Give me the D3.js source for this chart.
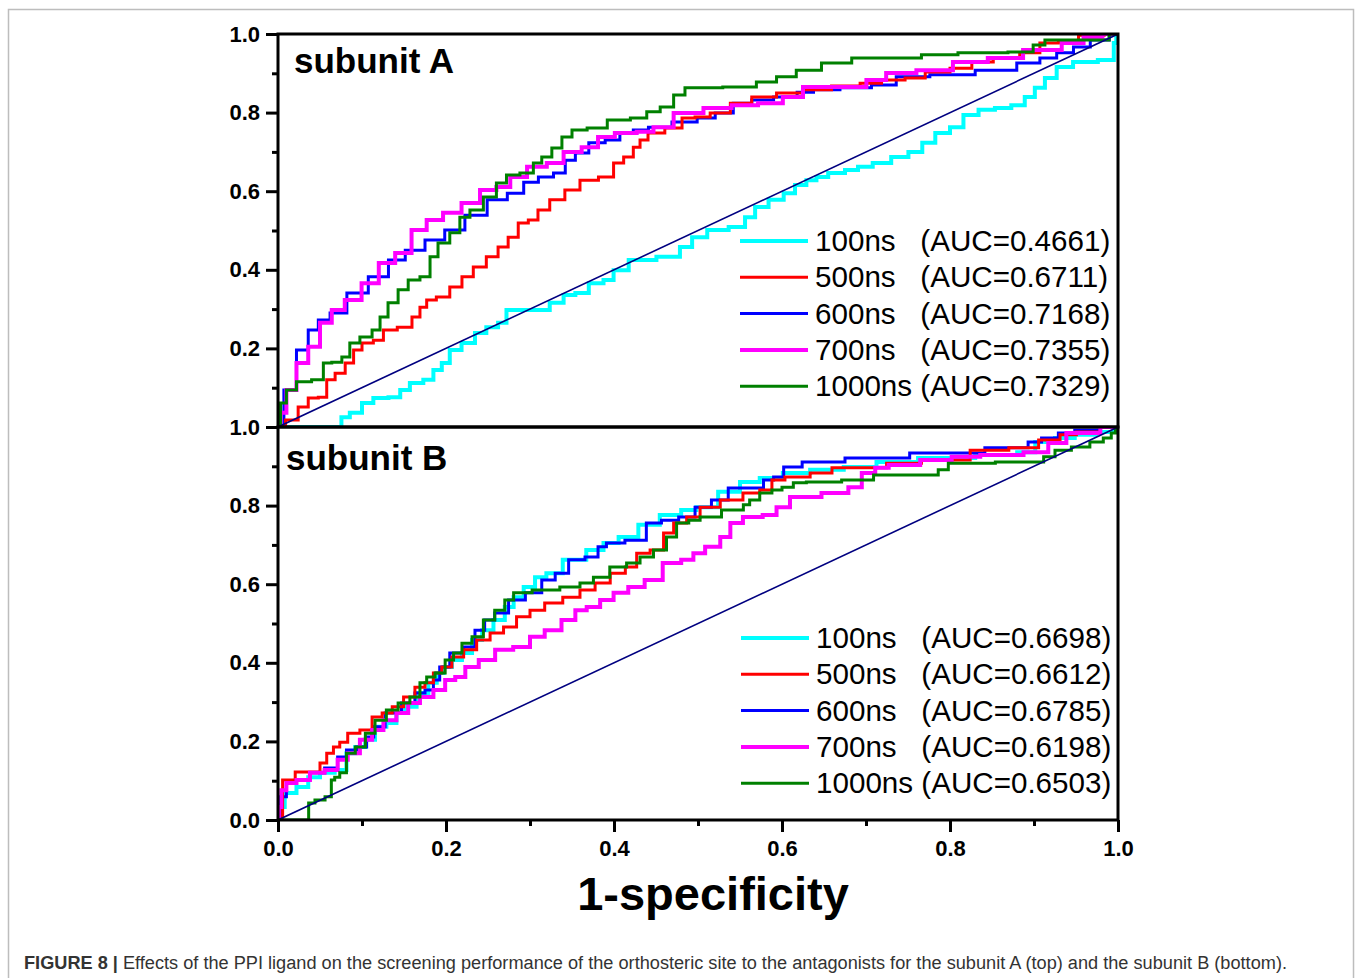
<!DOCTYPE html>
<html>
<head>
<meta charset="utf-8">
<script src="https://cdn.jsdelivr.net/npm/d3@7"></script>
<style>
  body { margin: 0; background: #fff; }
  text { font-family: "Liberation Sans", Arial, sans-serif; }
</style>
</head>
<body>
<div id="chart"></div>
<script>
const width = 1355
const height = 978

// runs, colours and AUC values from the legends
const runs = ["100ns", "500ns", "600ns", "700ns", "1000ns"]
const colors = ["#00ffff", "#ff0000", "#0000ff", "#ff00ff", "#008000"]
const widths = [4, 3, 3, 4, 3]
const aucA = ["0.4661", "0.6711", "0.7168", "0.7355", "0.7329"]
const aucB = ["0.6698", "0.6612", "0.6785", "0.6198", "0.6503"]
const majorTicks = [0, 0.2, 0.4, 0.6, 0.8, 1.0]
const minorTicks = [0.1, 0.3, 0.5, 0.7, 0.9]

// subunit A, [1-specificity, sensitivity]
const a100 = [[0,0],[0.074,0],[0.077,0.025],[0.094,0.036],[0.106,0.061],[0.121,0.074],[0.142,0.076],[0.149,0.094],[0.165,0.112],[0.181,0.120],[0.189,0.145],[0.201,0.163],[0.208,0.196],[0.229,0.214],[0.240,0.239],[0.256,0.254],[0.268,0.265],[0.276,0.298],[0.315,0.298],[0.332,0.316],[0.348,0.336],[0.360,0.341],[0.380,0.366],[0.395,0.374],[0.404,0.399],[0.431,0.425],[0.470,0.433],[0.487,0.458],[0.499,0.483],[0.523,0.501],[0.550,0.509],[0.562,0.534],[0.574,0.560],[0.594,0.578],[0.610,0.595],[0.621,0.616],[0.637,0.628],[0.645,0.636],[0.665,0.646],[0.685,0.654],[0.696,0.662],[0.720,0.672],[0.740,0.687],[0.761,0.700],[0.773,0.723],[0.792,0.748],[0.808,0.763],[0.824,0.794],[0.844,0.807],[0.863,0.812],[0.883,0.819],[0.895,0.840],[0.907,0.863],[0.919,0.888],[0.935,0.916],[0.958,0.929],[0.994,0.934],[0.996,0.977],[1,1]]
const a500 = [[0,0],[0.018,0.018],[0.030,0.051],[0.042,0.074],[0.054,0.076],[0.062,0.120],[0.074,0.137],[0.086,0.163],[0.094,0.196],[0.106,0.214],[0.121,0.221],[0.130,0.247],[0.154,0.254],[0.165,0.280],[0.173,0.305],[0.181,0.323],[0.196,0.331],[0.213,0.356],[0.225,0.382],[0.240,0.407],[0.256,0.433],[0.268,0.458],[0.280,0.483],[0.292,0.519],[0.304,0.527],[0.315,0.552],[0.332,0.578],[0.351,0.603],[0.368,0.628],[0.395,0.636],[0.404,0.672],[0.419,0.687],[0.427,0.712],[0.435,0.730],[0.446,0.748],[0.475,0.761],[0.487,0.786],[0.506,0.789],[0.523,0.799],[0.554,0.824],[0.574,0.840],[0.613,0.850],[0.637,0.858],[0.681,0.868],[0.705,0.875],[0.732,0.883],[0.761,0.888],[0.780,0.903],[0.820,0.913],[0.832,0.929],[0.871,0.939],[0.895,0.952],[0.919,0.977],[0.939,0.980],[0.967,0.997],[1,1]]
const a600 = [[0,0],[0.014,0.094],[0.030,0.196],[0.042,0.247],[0.054,0.272],[0.070,0.290],[0.094,0.341],[0.121,0.382],[0.142,0.425],[0.161,0.450],[0.189,0.476],[0.208,0.501],[0.237,0.539],[0.261,0.578],[0.285,0.595],[0.300,0.623],[0.320,0.636],[0.336,0.646],[0.348,0.679],[0.360,0.697],[0.380,0.723],[0.399,0.730],[0.415,0.748],[0.431,0.756],[0.451,0.763],[0.487,0.776],[0.511,0.786],[0.530,0.799],[0.554,0.824],[0.574,0.832],[0.606,0.840],[0.630,0.852],[0.645,0.858],[0.693,0.863],[0.720,0.870],[0.752,0.891],[0.800,0.896],[0.860,0.908],[0.899,0.926],[0.915,0.939],[0.939,0.952],[0.955,0.967],[0.979,0.985],[1,1]]
const a700 = [[0,0],[0.006,0.036],[0.014,0.094],[0.030,0.163],[0.042,0.204],[0.058,0.265],[0.070,0.298],[0.089,0.323],[0.110,0.366],[0.130,0.417],[0.149,0.443],[0.169,0.501],[0.185,0.527],[0.208,0.545],[0.229,0.570],[0.252,0.603],[0.268,0.611],[0.285,0.636],[0.308,0.662],[0.332,0.672],[0.348,0.700],[0.375,0.712],[0.387,0.738],[0.415,0.748],[0.439,0.751],[0.455,0.763],[0.487,0.799],[0.526,0.812],[0.554,0.819],[0.589,0.824],[0.613,0.840],[0.637,0.865],[0.693,0.865],[0.708,0.883],[0.740,0.901],[0.780,0.908],[0.827,0.929],[0.863,0.939],[0.911,0.959],[0.955,0.977],[0.963,0.992],[1,1]]
const a1000 = [[0,0],[0.006,0.061],[0.014,0.094],[0.030,0.115],[0.050,0.120],[0.058,0.163],[0.070,0.165],[0.082,0.178],[0.089,0.214],[0.106,0.229],[0.118,0.247],[0.125,0.280],[0.137,0.316],[0.149,0.349],[0.161,0.374],[0.177,0.382],[0.185,0.433],[0.196,0.468],[0.213,0.494],[0.220,0.534],[0.237,0.552],[0.252,0.585],[0.268,0.621],[0.276,0.641],[0.300,0.646],[0.308,0.672],[0.320,0.687],[0.332,0.710],[0.344,0.738],[0.356,0.756],[0.380,0.761],[0.404,0.781],[0.435,0.786],[0.443,0.802],[0.467,0.814],[0.475,0.845],[0.494,0.863],[0.565,0.865],[0.574,0.878],[0.613,0.891],[0.621,0.908],[0.673,0.926],[0.693,0.939],[0.764,0.939],[0.768,0.947],[0.851,0.952],[0.887,0.954],[0.911,0.972],[0.915,0.985],[0.979,0.985],[1,1]]

// subunit B
const b100 = [[0,0],[0.002,0.033],[0.014,0.069],[0.030,0.084],[0.042,0.109],[0.058,0.120],[0.077,0.127],[0.086,0.170],[0.098,0.186],[0.110,0.204],[0.121,0.237],[0.137,0.247],[0.145,0.272],[0.157,0.288],[0.173,0.323],[0.185,0.349],[0.193,0.374],[0.201,0.389],[0.213,0.407],[0.225,0.425],[0.237,0.458],[0.249,0.483],[0.264,0.509],[0.276,0.542],[0.285,0.567],[0.300,0.593],[0.312,0.618],[0.327,0.628],[0.351,0.662],[0.383,0.687],[0.392,0.705],[0.419,0.720],[0.439,0.751],[0.470,0.776],[0.490,0.789],[0.506,0.796],[0.542,0.835],[0.558,0.860],[0.589,0.870],[0.613,0.883],[0.654,0.891],[0.693,0.898],[0.732,0.911],[0.792,0.921],[0.868,0.929],[0.892,0.936],[0.911,0.962],[0.939,0.972],[0.958,0.980],[0.990,0.987],[1,1]]
const b500 = [[0,0],[0.011,0.102],[0.030,0.122],[0.046,0.122],[0.054,0.145],[0.062,0.170],[0.070,0.186],[0.077,0.198],[0.089,0.221],[0.106,0.229],[0.118,0.262],[0.130,0.272],[0.142,0.288],[0.157,0.313],[0.169,0.338],[0.181,0.349],[0.189,0.374],[0.201,0.389],[0.213,0.415],[0.229,0.433],[0.244,0.458],[0.261,0.476],[0.276,0.491],[0.292,0.517],[0.308,0.534],[0.327,0.552],[0.351,0.567],[0.368,0.585],[0.387,0.603],[0.404,0.628],[0.423,0.644],[0.431,0.679],[0.455,0.687],[0.463,0.730],[0.479,0.756],[0.494,0.771],[0.511,0.796],[0.542,0.814],[0.565,0.832],[0.582,0.840],[0.594,0.865],[0.613,0.873],[0.654,0.883],[0.665,0.896],[0.717,0.896],[0.732,0.908],[0.800,0.916],[0.848,0.941],[0.892,0.947],[0.919,0.967],[0.943,0.980],[0.958,0.987],[1,1]]
const b600 = [[0,0],[0.006,0.059],[0.014,0.094],[0.030,0.102],[0.046,0.120],[0.065,0.132],[0.077,0.160],[0.086,0.178],[0.101,0.186],[0.110,0.211],[0.118,0.237],[0.137,0.272],[0.157,0.298],[0.169,0.323],[0.181,0.331],[0.189,0.356],[0.196,0.389],[0.213,0.425],[0.229,0.440],[0.240,0.483],[0.252,0.509],[0.264,0.527],[0.285,0.560],[0.304,0.578],[0.324,0.611],[0.336,0.628],[0.356,0.662],[0.375,0.669],[0.387,0.695],[0.395,0.705],[0.431,0.712],[0.446,0.756],[0.467,0.763],[0.487,0.771],[0.506,0.796],[0.526,0.814],[0.546,0.845],[0.574,0.845],[0.582,0.865],[0.598,0.873],[0.606,0.898],[0.642,0.911],[0.708,0.921],[0.796,0.934],[0.887,0.947],[0.899,0.962],[0.919,0.972],[0.939,0.985],[0.958,0.992],[1,1]]
const b700 = [[0,0],[0.002,0.033],[0.006,0.076],[0.014,0.094],[0.030,0.102],[0.046,0.120],[0.065,0.127],[0.077,0.153],[0.089,0.170],[0.106,0.204],[0.118,0.229],[0.133,0.254],[0.149,0.272],[0.161,0.298],[0.177,0.313],[0.193,0.331],[0.205,0.356],[0.217,0.364],[0.229,0.389],[0.249,0.407],[0.268,0.433],[0.292,0.440],[0.308,0.466],[0.327,0.483],[0.348,0.509],[0.360,0.534],[0.375,0.542],[0.392,0.560],[0.407,0.578],[0.427,0.593],[0.446,0.611],[0.470,0.654],[0.490,0.662],[0.499,0.679],[0.518,0.695],[0.535,0.720],[0.542,0.756],[0.565,0.771],[0.589,0.776],[0.598,0.796],[0.621,0.822],[0.673,0.832],[0.685,0.847],[0.705,0.883],[0.717,0.896],[0.737,0.903],[0.792,0.916],[0.812,0.924],[0.860,0.929],[0.915,0.936],[0.919,0.959],[0.958,0.985],[1,1]]
const b1000 = [[0,0],[0.035,0],[0.038,0.043],[0.050,0.051],[0.062,0.059],[0.065,0.102],[0.070,0.109],[0.077,0.120],[0.086,0.170],[0.098,0.186],[0.110,0.221],[0.121,0.254],[0.137,0.280],[0.149,0.298],[0.165,0.313],[0.173,0.349],[0.181,0.364],[0.193,0.374],[0.205,0.407],[0.213,0.425],[0.225,0.450],[0.237,0.466],[0.252,0.509],[0.264,0.534],[0.276,0.560],[0.285,0.578],[0.320,0.585],[0.351,0.593],[0.368,0.603],[0.383,0.618],[0.407,0.644],[0.423,0.654],[0.439,0.669],[0.455,0.687],[0.470,0.720],[0.479,0.756],[0.499,0.763],[0.506,0.771],[0.550,0.789],[0.558,0.802],[0.565,0.814],[0.582,0.832],[0.594,0.840],[0.606,0.847],[0.621,0.858],[0.637,0.860],[0.705,0.865],[0.713,0.878],[0.780,0.878],[0.792,0.891],[0.804,0.908],[0.904,0.911],[0.919,0.924],[0.931,0.941],[0.958,0.949],[0.975,0.962],[0.990,0.972],[0.994,0.985],[1,1]]

const seriesA = [a100, a500, a600, a700, a1000]
const seriesB = [b100, b500, b600, b700, b1000]
const drawOrder = [0, 2, 1, 3, 4]

const svg = d3.select("#chart")
    .append("svg")
    .attr("width", width)
    .attr("height", height)

// page frame
svg.append("rect")
    .attr("x", 8.5).attr("y", 9.5)
    .attr("width", 1345).attr("height", 1000)
    .attr("fill", "none")
    .attr("stroke", "#bdbdbd")
    .attr("stroke-width", 1.5)

const x = d3.scaleLinear([0, 1], [278, 1118])
const yA = d3.scaleLinear([0, 1], [427, 34])
const yB = d3.scaleLinear([0, 1], [820, 427])

function panel(y, series, auc, title, titleX, titleY, legendTop, legendX, labelZero) {
    const g = svg.append("g")
    const clipId = "clip" + title.slice(-1)
    g.append("clipPath").attr("id", clipId)
        .append("rect")
        .attr("x", x(0)).attr("y", y(1))
        .attr("width", x(1) - x(0)).attr("height", y(0) - y(1))

    // ROC curves are staircases
    const line = d3.line()
        .x(d => x(d[0]))
        .y(d => y(d[1]))
        .curve(d3.curveStep)

    const curves = g.append("g").attr("clip-path", "url(#" + clipId + ")")
    drawOrder.forEach(i => {
        curves.append("path")
            .datum(series[i])
            .attr("d", line)
            .attr("fill", "none")
            .attr("stroke", colors[i])
            .attr("stroke-width", widths[i])
            .attr("stroke-linejoin", "miter")
    })
    // chance line
    curves.append("path")
        .datum([[0, 0], [1, 1]])
        .attr("d", line.curve(d3.curveLinear))
        .attr("stroke", "#000080")
        .attr("stroke-width", 1.6)

    // y axis, major + minor ticks
    const major = g.append("g")
        .attr("transform", "translate(" + x(0) + ",0)")
        .call(d3.axisLeft(y).tickValues(labelZero ? majorTicks : majorTicks.slice(1))
            .tickSize(12).tickPadding(6).tickFormat(d3.format(".1f")))
    const minor = g.append("g")
        .attr("transform", "translate(" + x(0) + ",0)")
        .call(d3.axisLeft(y).tickValues(minorTicks).tickSize(6).tickFormat(""))
    ;[major, minor].forEach(a => {
        a.select(".domain").remove()
        a.selectAll("line").attr("stroke", "#000").attr("stroke-width", 3)
    })
    major.selectAll("text")
        .attr("fill", "#000")
        .style("font-size", "22px")
        .style("font-weight", "bold")

    g.append("rect")
        .attr("x", x(0)).attr("y", y(1))
        .attr("width", x(1) - x(0)).attr("height", y(0) - y(1))
        .attr("fill", "none")
        .attr("stroke", "#000")
        .attr("stroke-width", 3)

    g.append("text")
        .attr("x", titleX).attr("y", titleY)
        .style("font-size", "35px")
        .style("font-weight", "bold")
        .text(title)

    // legend
    const rowH = 36.3
    runs.forEach((r, i) => {
        const cy = legendTop + i * rowH
        g.append("line")
            .attr("x1", legendX).attr("x2", legendX + 68)
            .attr("y1", cy).attr("y2", cy)
            .attr("stroke", colors[i])
            .attr("stroke-width", widths[i])
        const pad = " ".repeat(1 + 2 * (6 - r.length))
        g.append("text")
            .attr("x", legendX + 75).attr("y", cy + 10)
            .style("font-size", "29.6px")
            .style("white-space", "pre")
            .text(r + pad + "(AUC=" + auc[i] + ")")
    })
}

panel(yA, seriesA, aucA, "subunit A", 294, 73, 241, 740, false)
panel(yB, seriesB, aucB, "subunit B", 286, 470, 638, 741, true)

// shared x axis
const xMajor = svg.append("g")
    .attr("transform", "translate(0," + yB(0) + ")")
    .call(d3.axisBottom(x).tickValues(majorTicks).tickSize(12).tickPadding(8).tickFormat(d3.format(".1f")))
const xMinor = svg.append("g")
    .attr("transform", "translate(0," + yB(0) + ")")
    .call(d3.axisBottom(x).tickValues(minorTicks).tickSize(6).tickFormat(""))
;[xMajor, xMinor].forEach(a => {
    a.select(".domain").remove()
    a.selectAll("line").attr("stroke", "#000").attr("stroke-width", 3)
})
xMajor.selectAll("text")
    .attr("fill", "#000")
    .style("font-size", "22px")
    .style("font-weight", "bold")

svg.append("text")
    .attr("x", 713).attr("y", 910)
    .attr("text-anchor", "middle")
    .style("font-size", "47px")
    .style("font-weight", "bold")
    .text("1-specificity")

// caption
const cap = svg.append("text")
    .attr("x", 24).attr("y", 969)
    .attr("fill", "#333")
    .attr("textLength", 1263)
    .attr("lengthAdjust", "spacingAndGlyphs")
    .style("font-size", "18px")
cap.append("tspan").style("font-weight", "bold").text("FIGURE 8 | ")
cap.append("tspan").text("Effects of the PPI ligand on the screening performance of the orthosteric site to the antagonists for the subunit A (top) and the subunit B (bottom).")
</script>
</body>
</html>
